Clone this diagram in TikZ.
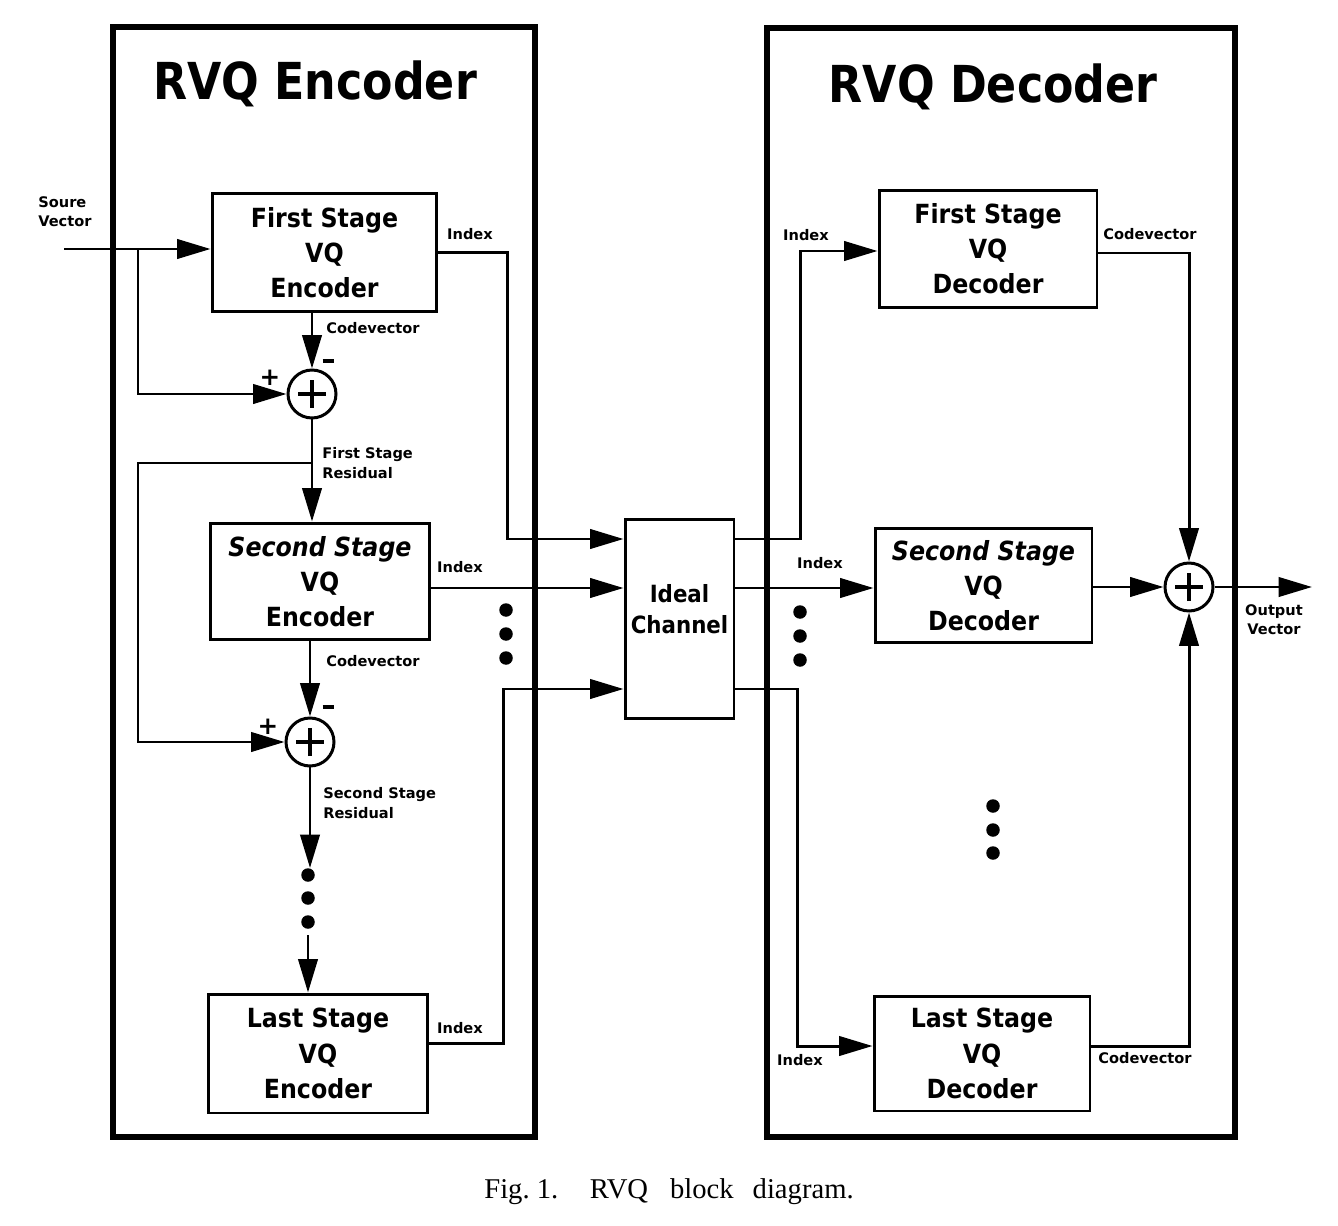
\documentclass[tikz,border=0pt]{standalone}
\usepackage{fontspec}
\setmainfont{DejaVu Sans}
\newfontfamily\capfont{Liberation Serif}
\usetikzlibrary{arrows.meta}
\newcommand\sqz[1]{\scalebox{0.9}[1]{#1}}
\newcommand\sqt[1]{\scalebox{0.87}[1]{#1}}
\begin{document}
\begin{tikzpicture}[x=0.02cm,y=-0.02cm,
 wire/.style={line width=1.7pt},
 arr/.style={wire,-{Triangle[length=19pt,width=11pt]}},
 blk/.style={draw,line width=1.7pt,inner sep=0pt,align=center,font=\bfseries\fontsize{15}{20}\selectfont},
 outerbox/.style={draw,line width=3.3pt,inner sep=0pt},
 sum/.style={draw,circle,line width=1.7pt,minimum size=0.96cm,inner sep=0pt},
 plusbar/.style={line width=2.7pt},
 lab/.style={font=\bfseries\fontsize{8.3}{11}\selectfont,inner sep=0pt},
 sgn/.style={font=\bfseries\fontsize{14}{14}\selectfont,inner sep=0pt},
 minus/.style={line width=2.6pt},
 dot/.style={circle,fill,inner sep=0pt,minimum size=0.27cm},
 ttl/.style={font=\bfseries\fontsize{29}{30}\selectfont,inner sep=0pt}]
\fill[white] (0,0) rectangle (1338,1226);
\useasboundingbox (0,0) rectangle (1338,1226);

% outer boxes and titles
\node[outerbox,minimum width=8.44cm,minimum height=22.2cm] (encbox) at (324,582) {};
\node[outerbox,minimum width=9.36cm,minimum height=22.18cm] (decbox) at (1001,582.5) {};
\node[ttl,anchor=base] (enct) at (315,100) {\sqt{RVQ Encoder}};
\node[ttl,anchor=base] (dect) at (993,103) {\sqt{RVQ Decoder}};

% encoder blocks
\node[blk,minimum width=4.5cm,minimum height=2.38cm] (enc1) at (324.5,252.5) {\sqz{First Stage}\\\sqz{VQ}\\\sqz{Encoder}};
\node[blk,minimum width=4.4cm,minimum height=2.34cm] (enc2) at (320,581.5) {\sqz{\itshape Second Stage}\\\sqz{VQ}\\\sqz{Encoder}};
\node[blk,minimum width=4.4cm,minimum height=2.38cm] (enc3) at (318,1053.5) {\sqz{Last Stage}\\\sqz{VQ}\\\sqz{Encoder}};
\node[sum] (s1) at (312,394) {};
\node[sum] (s2) at (310,742) {};

% channel
\node[blk,minimum width=2.18cm,minimum height=4cm] (chan) at (679.5,619) {};
\node[font=\bfseries\fontsize{13.5}{18}\selectfont,align=center,inner sep=0pt] (chant) at (679.5,609) {\sqz{Ideal}\\\sqz{Channel}};

% decoder blocks
\node[blk,minimum width=4.36cm,minimum height=2.36cm] (dec1) at (988,249) {\sqz{First Stage}\\\sqz{VQ}\\\sqz{Decoder}};
\node[blk,minimum width=4.34cm,minimum height=2.3cm] (dec2) at (983.5,585.5) {\sqz{\itshape Second Stage}\\\sqz{VQ}\\\sqz{Decoder}};
\node[blk,minimum width=4.32cm,minimum height=2.3cm] (dec3) at (982,1053.5) {\sqz{Last Stage}\\\sqz{VQ}\\\sqz{Decoder}};
\node[sum] (s3) at (1189,587) {};

% plus signs in summers
\foreach \s in {s1,s2,s3}{
  \draw[plusbar] ([xshift=-0.28cm]\s.center) -- ([xshift=0.28cm]\s.center);
  \draw[plusbar] ([yshift=-0.28cm]\s.center) -- ([yshift=0.28cm]\s.center);
}

% coordinates
\coordinate (src) at (64,249);
\coordinate (b1) at (138,249);
\coordinate (b2) at (312,463);
\coordinate (b2l) at (138,463);
\coordinate (e2end) at (310,868);
\coordinate (e3start) at (308,935);
\coordinate (i1) at (507,539);
\coordinate (i2) at (500,588);
\coordinate (i3a) at (503,1043);
\coordinate (i3) at (503,689);
\coordinate (o1) at (800,539);
\coordinate (o1b) at (800,251);
\coordinate (o3) at (797,689);
\coordinate (o3b) at (797,1046);
\coordinate (c1) at (1189,253);
\coordinate (c3) at (1189,1046);
\coordinate (out) at (1312,587);

% encoder connectors
\draw[arr] (src) -- (src -| enc1.west);
\draw[arr] (b1) |- (s1);
\draw[arr] (enc1.south -| s1) -- (s1);
\draw[arr] (s1) -- (s1 |- enc2.north);
\draw[arr] (b2) -- (b2l) |- (s2);
\draw[arr] (enc2.south -| s2) -- (s2);
\draw[arr] (s2) -- (e2end);
\draw[arr] (e3start) -- (e3start |- enc3.north);

% index lines to channel
\draw[arr] (enc1.east) -| (i1) -- (i1 -| chan.west);
\draw[arr] (enc2.east |- i2) -- (i2 -| chan.west);
\draw[arr] (enc3.east |- i3a) -- (i3a) -- (i3) -- (i3 -| chan.west);

% channel to decoders
\draw[arr] (chan.east |- o1) -- (o1) -- (o1b) -- (o1b -| dec1.west);
\draw[arr] (chan.east |- i2) -- (i2 -| dec2.west);
\draw[arr] (chan.east |- o3) -- (o3) -- (o3b) -- (o3b -| dec3.west);

% decoder outputs
\draw[arr] (dec1.east |- c1) -- (c1) -- (s3);
\draw[arr] (dec2.east |- s3) -- (s3);
\draw[arr] (dec3.east |- c3) -- (c3) -- (s3);
\draw[arr] (s3) -- (out);

% dots
\foreach \y [count=\i] in {875,898,922}{\node[dot] (da\i) at (308,\y) {};}
\foreach \y [count=\i] in {610,634,658}{\node[dot] (db\i) at (506,\y) {};}
\foreach \y [count=\i] in {612,636,660}{\node[dot] (dc\i) at (800,\y) {};}
\foreach \y [count=\i] in {806,830,853}{\node[dot] (dd\i) at (993,\y) {};}

% labels
\node[lab,align=left,anchor=west] (lsrc) at (38,212) {Soure\\Vector};
\node[lab] (li1) at (470,234) {Index};
\node[lab] (lc1) at (373,328) {Codevector};
\coordinate (m1) at (328,361);
\draw[minus] ([xshift=-0.11cm]m1) -- ([xshift=0.11cm]m1);
\node[sgn] (p1) at (270,378) {+};
\node[lab,align=left,anchor=west] (lr1) at (322,463) {First Stage\\Residual};
\node[lab] (li2) at (460,567) {Index};
\node[lab] (lc2) at (373,661) {Codevector};
\coordinate (m2) at (328,707);
\draw[minus] ([xshift=-0.11cm]m2) -- ([xshift=0.11cm]m2);
\node[sgn] (p2) at (268,727) {+};
\node[lab,align=left,anchor=west] (lr2) at (323,803) {Second Stage\\Residual};
\node[lab] (li3) at (460,1028) {Index};
\node[lab] (ld1) at (806,235) {Index};
\node[lab] (ld2) at (820,563) {Index};
\node[lab] (ld3) at (800,1060) {Index};
\node[lab] (lcd1) at (1150,234) {Codevector};
\node[lab] (lcd3) at (1145,1058) {Codevector};
\node[lab,align=center] (lout) at (1274,620) {Output\\Vector};

% caption
\node[font=\capfont\fontsize{16.3}{18}\selectfont,anchor=base west,inner sep=0pt] (cap) at (484,1198) {Fig.~1.\hspace{18pt}RVQ\hspace{12.5pt}block\hspace{10.8pt}diagram.};
\end{tikzpicture}
\end{document}
